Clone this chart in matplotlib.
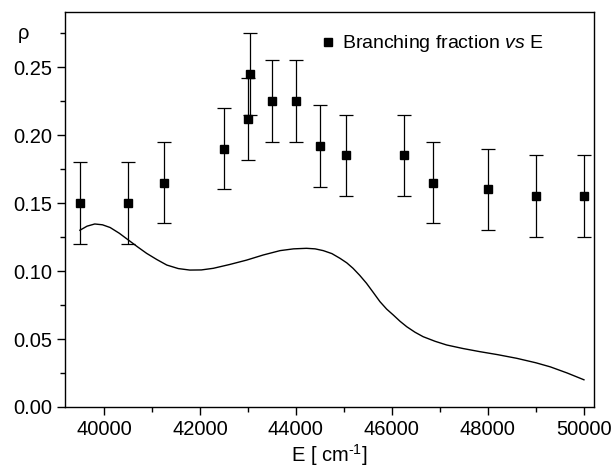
import numpy as np
import matplotlib
matplotlib.use("Agg")
import matplotlib.pyplot as plt
from matplotlib.ticker import MultipleLocator, FormatStrFormatter

plt.rcParams['font.family'] = ['Liberation Sans', 'DejaVu Sans']
plt.rcParams['mathtext.fontset'] = 'custom'
plt.rcParams['mathtext.rm'] = 'Liberation Sans'
plt.rcParams['mathtext.it'] = 'Liberation Sans:italic'

# measured branching fraction
E_pts = [39500, 40500, 41250, 42500, 43000, 43050, 43500, 44000,
         44500, 45050, 46250, 46850, 48000, 49000, 50000]
rho_pts = [0.150, 0.150, 0.165, 0.190, 0.212, 0.245, 0.225, 0.225,
           0.192, 0.185, 0.185, 0.165, 0.160, 0.155, 0.155]
rho_err = [0.03] * len(E_pts)

# calculated curve
E_curve = [39500, 39650, 39810, 39970, 40130, 40320, 40510, 40700, 40890,
           41100, 41310, 41550, 41790, 42030, 42280, 42620, 42970, 43320,
           43670, 43950, 44220, 44400, 44570, 44750, 44920, 45060, 45190,
           45330, 45470, 45610, 45750, 45890, 46030, 46170, 46310, 46480,
           46650, 46900, 47140, 47480, 47830, 48200, 48600, 49000, 49300,
           49650, 50000]
rho_curve = [0.1300, 0.1330, 0.1346, 0.1340, 0.1320, 0.1278, 0.1228, 0.1178, 0.1130,
             0.1085, 0.1044, 0.1018, 0.1007, 0.1008, 0.1020, 0.1048, 0.1080, 0.1118,
             0.1150, 0.1163, 0.1167, 0.1163, 0.1150, 0.1128, 0.1093, 0.1060, 0.1020,
             0.0968, 0.0910, 0.0843, 0.0775, 0.0720, 0.0676, 0.0630, 0.0590, 0.0550,
             0.0517, 0.0483, 0.0456, 0.0430, 0.0407, 0.0385, 0.0358, 0.0325, 0.0295,
             0.0250, 0.0200]

fig = plt.figure(figsize=(6.15, 4.75), dpi=100)
ax = fig.add_axes([0.1057, 0.1432, 0.8602, 0.8315])

ax.plot(E_curve, rho_curve, color='black', lw=1.0)
eb = ax.errorbar(E_pts, rho_pts, yerr=rho_err, fmt='s', color='black', ms=6,
                 elinewidth=0.9, capsize=5, capthick=0.9)

ax.set_xlim(39190, 50210)
ax.set_ylim(0, 0.2905)
ax.xaxis.set_major_locator(MultipleLocator(2000))
ax.xaxis.set_minor_locator(MultipleLocator(1000))
ax.yaxis.set_major_locator(MultipleLocator(0.05))
ax.yaxis.set_minor_locator(MultipleLocator(0.025))
ax.yaxis.set_major_formatter(FormatStrFormatter('%.2f'))
ax.tick_params(which='major', direction='out', length=6, width=1, labelsize=14.5)
ax.tick_params(which='minor', direction='out', length=3.5, width=1)
for s in ax.spines.values():
    s.set_linewidth(1.0)

ax.set_xlabel('E [ cm$^{\\text{-1}}$]', fontsize=14.5, labelpad=2)
ax.text(-0.078, 0.945, 'ρ', transform=ax.transAxes, fontsize=14.5,
        ha='center', va='center')

ax.legend([eb[0]], ['Branching fraction $\\mathit{vs}$ E'], loc='upper right',
          frameon=False, fontsize=14, handletextpad=0.2, handlelength=1.0,
          bbox_to_anchor=(0.937, 0.99))

fig.savefig('out.png', dpi=100)
